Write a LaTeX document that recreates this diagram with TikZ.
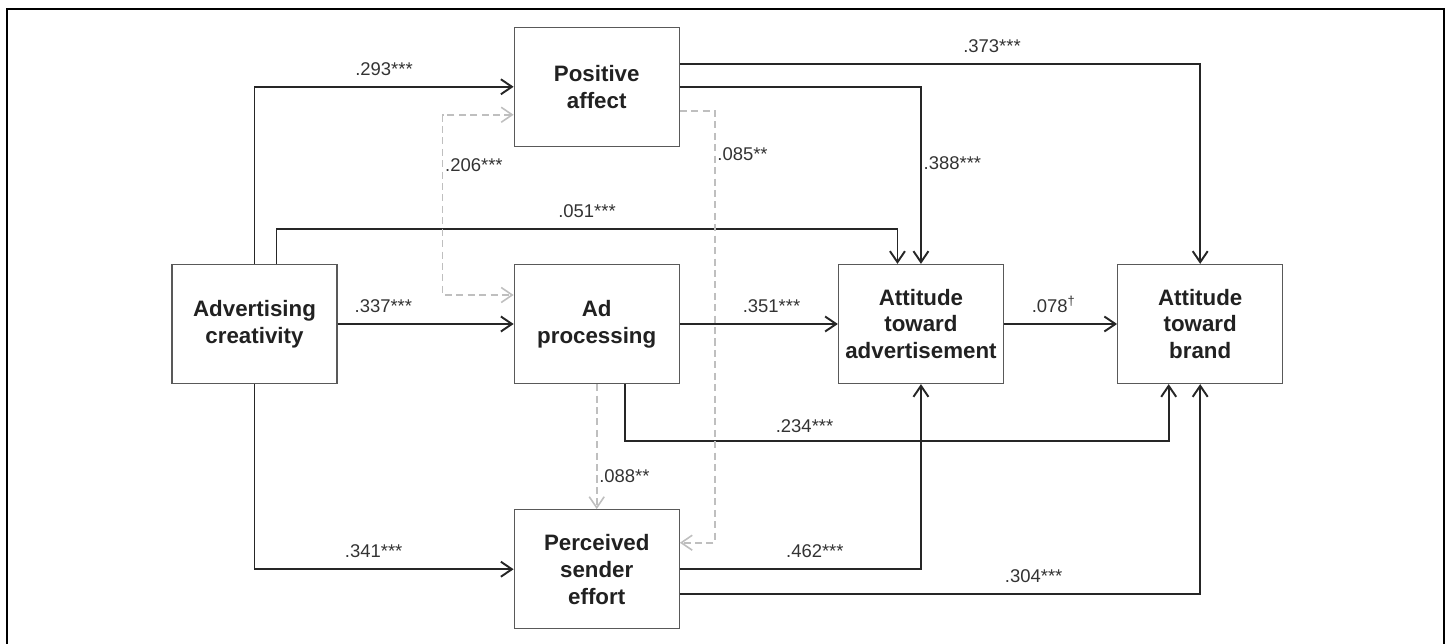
\documentclass[tikz,border=0pt]{standalone}
\usepackage{fontspec}
\setmainfont{Liberation Sans}
\usetikzlibrary{positioning, arrows.meta}

\tikzset{
  var/.style={draw=black!65, line width=0.7pt, minimum width=3.3cm, minimum height=2.38cm,
    inner sep=2pt, align=center, font=\fontsize{12.7}{15.3}\selectfont\bfseries, text=black!87},
  coef/.style={font=\fontsize{10.5}{12}\selectfont, text=black!80, inner sep=1pt},
  link/.style={->, line width=1.1pt, draw=black!85},
  corr/.style={line width=0.9pt, draw=black!25, dash pattern=on 4pt off 2.5pt}
}

\begin{document}
\begin{tikzpicture}[>={Straight Barb[length=2.2mm, width=3mm]}]
    \useasboundingbox (0,0) rectangle (28.92,-12.88);
    % Frame
    \draw[line width=1.1pt] (0.14,-12.88) -- (0.14,-0.18) -- (28.88,-0.18) -- (28.88,-12.88);

    % Nodes
    \node[var] (ac) at (5.09,-6.48) {Advertising\\creativity};
    \node[var, right=3.52cm of ac] (ap) {Ad\\processing};
    \node[var, above=2.34cm of ap] (pa) {Positive\\affect};
    \node[var, below=2.5cm of ap] (pse) {Perceived\\sender\\effort};
    \node[var, right=3.16cm of ap] (ata) {Attitude\\toward\\advertisement};
    \node[var, right=2.26cm of ata] (atb) {Attitude\\toward\\brand};

    % Paths
    \draw[link] (ac.north) |- node[coef, above=5pt, pos=0.75] {.293***} (pa.west);
    \draw[link] ([xshift=0.44cm]ac.north) -- ++(0,0.7) -| node[coef, above=5pt, pos=0.25] {.051***} ([xshift=-0.47cm]ata.north);
    \draw[link] (ac) -- node[coef, above=5pt, pos=0.26] {.337***} (ap);
    \draw[link] (ac.south) |- node[coef, above=5pt, pos=0.73] {.341***} (pse.west);

    \draw[link] ([yshift=0.46cm]pa.east) -| node[coef, above=5pt, pos=0.3] {.373***} (atb.north);
    \draw[link] (pa.east) -| node[coef, right, pos=0.715] {.388***} (ata.north);

    \draw[link] (ap) -- node[coef, above=5pt, pos=0.58] {.351***} (ata);
    \draw[link] (ata) -- node[coef, above=5pt, pos=0.44] {.078\textsuperscript{†}} (atb);
    \draw[link] ([xshift=0.57cm]ap.south) -- ++(0,-1.14) -| node[coef, above=3pt, pos=0.165] {.234***} ([xshift=-0.63cm]atb.south);

    \draw[link] (pse.east) -| node[coef, above=5pt, pos=0.28] {.462***} (ata.south);
    \draw[link] ([yshift=-0.49cm]pse.east) -| node[coef, above=5pt, pos=0.34] {.304***} (atb.south);

    % Dashed paths
    \draw[corr, <->] ([yshift=-0.56cm]pa.west) -- ++(-1.42,0) |- node[coef, right, pos=0.14] {.206***} ([yshift=0.58cm]ap.west);
    \draw[corr, ->] ([yshift=-0.48cm]pa.east) -- ++(0.7,0) |- node[coef, right, pos=0.05] {.085**} ([yshift=0.53cm]pse.east);
    \draw[corr, ->] (ap.south) -- node[coef, right, pos=0.74] {.088**} (pse.north);
\end{tikzpicture}
\end{document}
